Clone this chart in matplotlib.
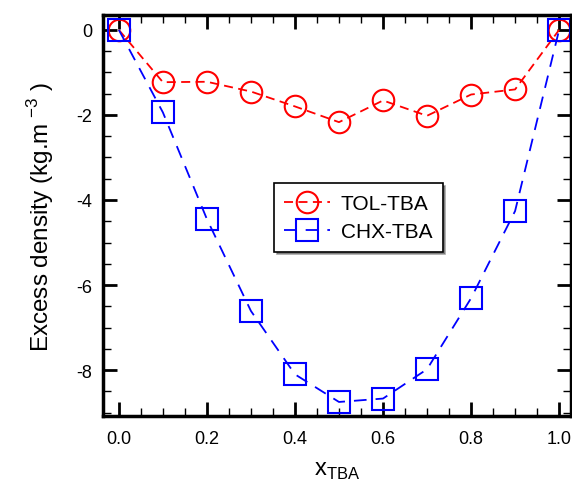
import matplotlib.pyplot as plt
from matplotlib.ticker import MultipleLocator

x = [0.0, 0.1, 0.2, 0.3, 0.4, 0.5, 0.6, 0.7, 0.8, 0.9, 1.0]
tol_tba = [0.0, -1.23, -1.22, -1.45, -1.80, -2.17, -1.66, -2.02, -1.52, -1.40, 0.0]
chx_tba = [0.0, -1.94, -4.45, -6.61, -8.10, -8.75, -8.67, -7.98, -6.31, -4.26, 0.0]

plt.rcParams['font.family'] = ['Liberation Sans', 'DejaVu Sans']

fig = plt.figure(figsize=(5.72, 4.81), dpi=100)
ax = fig.add_axes([103/572, 64/481, 468/572, 401/481])

ax.plot(x, tol_tba, color='red', linestyle=(0, (5, 3)), linewidth=1.3,
        marker='o', markersize=15.5, markerfacecolor='none',
        markeredgewidth=1.5, label='TOL-TBA')
ax.plot(x, chx_tba, color='blue', linestyle=(0, (7, 5)), linewidth=1.3,
        marker='s', markersize=15.5, markerfacecolor='none',
        markeredgewidth=1.5, label='CHX-TBA')

ax.set_xlim(-0.036, 1.027)
ax.set_ylim(-9.08, 0.35)
ax.xaxis.set_minor_locator(MultipleLocator(0.05))
ax.yaxis.set_minor_locator(MultipleLocator(0.5))
ax.set_xticks([0, 0.2, 0.4, 0.6, 0.8, 1.0])
ax.set_xticklabels(['0.0', '0.2', '0.4', '0.6', '0.8', '1.0'])
ax.set_yticks([0, -2, -4, -6, -8])
ax.set_yticklabels(['0', '-2', '-4', '-6', '-8'])

ax.tick_params(which='both', direction='in', top=True, right=True, labelsize=13)
ax.tick_params(which='major', length=10, width=2)
ax.tick_params(which='minor', length=6, width=1)
ax.tick_params(axis='x', pad=10)
ax.tick_params(axis='y', pad=8)
for s in ax.spines.values():
    s.set_linewidth(2.5)

ax.set_xlabel(r'x$_{\mathregular{TBA}}$', fontsize=17, labelpad=9)
ax.set_ylabel(r'Excess density (kg.m$^{\ \mathregular{-3}}$ )', fontsize=17.5, labelpad=14)

leg = ax.legend(loc='upper left', bbox_to_anchor=(0.343, 0.606), fontsize=15,
                frameon=True, shadow=True, fancybox=False, edgecolor='black',
                handlelength=2.2, handletextpad=0.5, borderpad=0.5,
                labelspacing=0.45)
leg.get_frame().set_linewidth(1.2)

fig.savefig('out.png', dpi=100)
